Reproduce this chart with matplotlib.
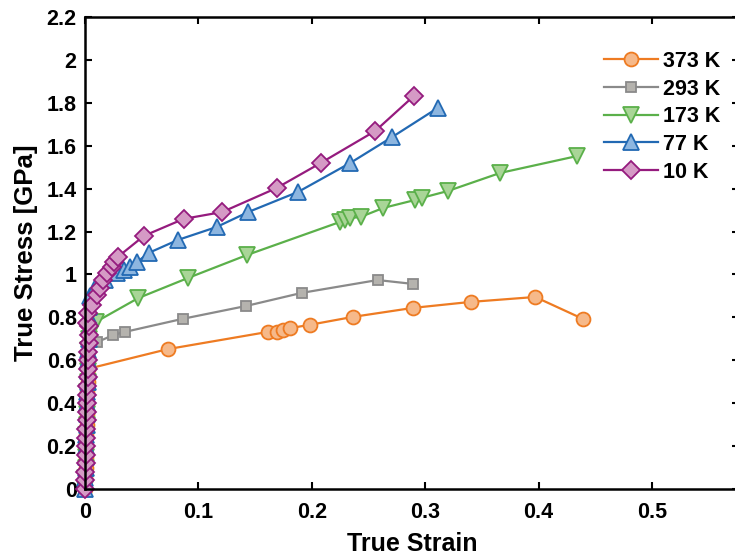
import matplotlib
matplotlib.use('Agg')
import matplotlib.pyplot as plt

plt.rcParams['font.family'] = ['Liberation Sans', 'DejaVu Sans']
plt.rcParams['font.weight'] = 'bold'

# datos (deformacion verdadera, tension verdadera en GPa)
labels = ['373 K', '293 K', '173 K', '77 K', '10 K']

strain_373 = [0.0, 0.0002, 0.0005, 0.0007, 0.0009, 0.0011, 0.0014, 0.0016, 0.0018, 0.0020, 0.0023, 0.0025,
              0.073, 0.161, 0.169, 0.175, 0.181, 0.198, 0.236, 0.289, 0.340, 0.397, 0.439]
stress_373 = [0.0, 0.05, 0.10, 0.15, 0.20, 0.25, 0.30, 0.35, 0.40, 0.45, 0.50, 0.56,
              0.652, 0.732, 0.733, 0.740, 0.750, 0.765, 0.802, 0.844, 0.872, 0.895, 0.793]

strain_293 = [0.0, 0.0002, 0.0005, 0.0007, 0.0009, 0.0011, 0.0014, 0.0016, 0.0018, 0.0020, 0.0023, 0.0025,
              0.0027, 0.0030, 0.011, 0.025, 0.035, 0.086, 0.142, 0.191, 0.258, 0.289]
stress_293 = [0.0, 0.05, 0.10, 0.15, 0.20, 0.25, 0.30, 0.35, 0.40, 0.45, 0.50, 0.55,
              0.60, 0.66, 0.685, 0.718, 0.732, 0.793, 0.853, 0.914, 0.974, 0.956]

strain_173 = [0.0, 0.0002, 0.0005, 0.0007, 0.0009, 0.0011, 0.0014, 0.0016, 0.0018, 0.0020, 0.0023, 0.0025,
              0.0027, 0.0030, 0.0032, 0.0034, 0.010, 0.047, 0.091, 0.143, 0.225, 0.229, 0.234, 0.243,
              0.263, 0.291, 0.297, 0.320, 0.366, 0.434]
stress_173 = [0.0, 0.05, 0.10, 0.15, 0.20, 0.25, 0.30, 0.35, 0.40, 0.45, 0.50, 0.55,
              0.60, 0.65, 0.70, 0.75, 0.78, 0.89, 0.984, 1.091, 1.245, 1.254, 1.263, 1.268,
              1.310, 1.347, 1.357, 1.389, 1.473, 1.552]

strain_77 = [0.0, 0.0002, 0.0005, 0.0007, 0.0009, 0.0011, 0.0014, 0.0016, 0.0018, 0.0020, 0.0023, 0.0025,
             0.0027, 0.0030, 0.0032, 0.0034, 0.0036, 0.0039, 0.0041, 0.010, 0.018, 0.028, 0.034, 0.040,
             0.046, 0.056, 0.082, 0.116, 0.144, 0.188, 0.234, 0.271, 0.311]
stress_77 = [0.0, 0.05, 0.10, 0.15, 0.20, 0.25, 0.30, 0.35, 0.40, 0.45, 0.50, 0.55,
             0.60, 0.65, 0.70, 0.75, 0.80, 0.85, 0.90, 0.945, 0.974, 1.007, 1.021, 1.035,
             1.058, 1.100, 1.161, 1.221, 1.291, 1.385, 1.520, 1.641, 1.776]

strain_10 = [0.0, 0.0002, 0.0004, 0.0005, 0.0007, 0.0009, 0.0011, 0.0013, 0.0014, 0.0016, 0.0018, 0.0020,
             0.0022, 0.0023, 0.0025, 0.0027, 0.0029, 0.0031, 0.0032, 0.0034, 0.002, 0.003, 0.006, 0.011,
             0.013, 0.016, 0.019, 0.024, 0.026, 0.029, 0.052, 0.087, 0.121, 0.169, 0.208, 0.256, 0.290]
stress_10 = [0.0, 0.04, 0.08, 0.12, 0.16, 0.20, 0.24, 0.28, 0.32, 0.36, 0.40, 0.44,
             0.48, 0.52, 0.56, 0.60, 0.64, 0.68, 0.72, 0.76, 0.774, 0.820, 0.858, 0.904,
             0.937, 0.974, 1.007, 1.035, 1.058, 1.082, 1.180, 1.259, 1.291, 1.403, 1.520, 1.669, 1.832]

series = [
    (strain_373, stress_373, 'o', 10, '#EE7B22', '#F6B98A'),
    (strain_293, stress_293, 's', 7.5, '#8A8A8A', '#B5B3AE'),
    (strain_173, stress_173, 'v', 11, '#5BB04A', '#A9D597'),
    (strain_77, stress_77, '^', 11, '#2269B3', '#8DB6E0'),
    (strain_10, stress_10, 'D', 9.5, '#951B7E', '#D59AC5'),
]

fig = plt.figure(figsize=(7.35, 5.59), dpi=100)
ax = fig.add_axes([85 / 735, 70 / 559, 654 / 735, 472 / 559])

for (x, y, m, ms, c, fc), lab in zip(series, labels):
    ax.plot(x, y, marker=m, markersize=ms, color=c, markerfacecolor=fc,
            markeredgecolor=c, markeredgewidth=1.3, linewidth=1.6, label=lab,
            clip_on=False)

ax.set_xlim(0, 0.5767)
ax.set_ylim(0, 2.2)
ax.set_xticks([0, 0.1, 0.2, 0.3, 0.4, 0.5])
ax.set_xticklabels(['0', '0.1', '0.2', '0.3', '0.4', '0.5'])
ax.set_yticks([0, 0.2, 0.4, 0.6, 0.8, 1.0, 1.2, 1.4, 1.6, 1.8, 2.0, 2.2])
ax.set_yticklabels(['0', '0.2', '0.4', '0.6', '0.8', '1', '1.2', '1.4', '1.6', '1.8', '2', '2.2'])

for s in ax.spines.values():
    s.set_linewidth(1.8)
ax.tick_params(direction='in', length=5, width=1.5, top=True, right=True,
               labelsize=15.5)
ax.tick_params(axis='x', pad=9)
ax.tick_params(axis='y', pad=6)

ax.set_xlabel('True Strain', fontsize=18, fontweight='bold')
ax.set_ylabel('True Stress [GPa]', fontsize=18.5, fontweight='bold')
ax.xaxis.set_label_coords(0.5, -0.092)
ax.yaxis.set_label_coords(-0.072, 0.5)

ax.legend(loc='upper left', bbox_to_anchor=(0.7936, 0.928), frameon=False,
          fontsize=15.5, handlelength=2.5, handletextpad=0.23, labelspacing=0.31,
          borderpad=0, borderaxespad=0)

fig.savefig('out.png', dpi=100)
